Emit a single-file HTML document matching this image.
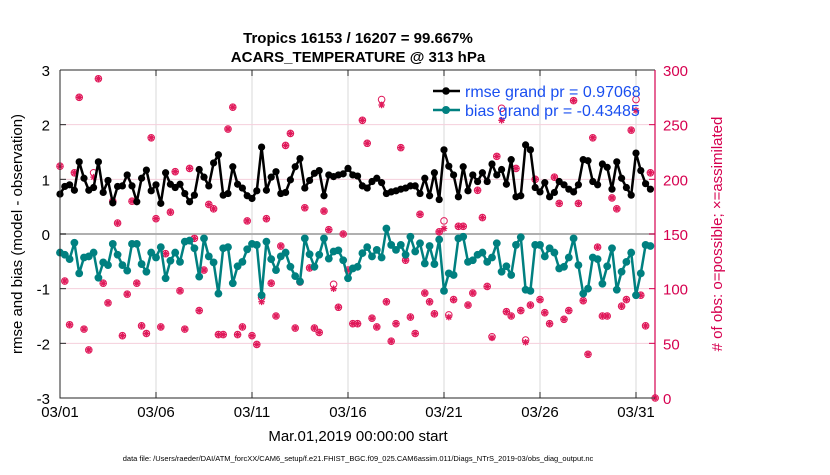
<!DOCTYPE html>
<html><head><meta charset="utf-8"><style>
body{margin:0;background:#fff;width:830px;height:470px;overflow:hidden;font-family:"Liberation Sans",sans-serif}
</style></head><body>
<svg id="chart" width="830" height="470" xmlns="http://www.w3.org/2000/svg" font-family="Liberation Sans, sans-serif">
<g id="grid"></g>
<g id="obs"></g>
<g id="lines"></g>
<g id="axes"></g>
<text x="358" y="43" text-anchor="middle" font-size="15" font-weight="bold">Tropics 16153 / 16207 = 99.667%</text>
<text x="358" y="62" text-anchor="middle" font-size="15" font-weight="bold">ACARS_TEMPERATURE @ 313 hPa</text>
<text transform="translate(22,234) rotate(-90)" text-anchor="middle" font-size="15">rmse and bias (model - observation)</text>
<text transform="translate(722,234) rotate(-90)" text-anchor="middle" font-size="15" fill="#d6004f"># of obs: o=possible; ×=assimilated</text>
<text x="358" y="441" text-anchor="middle" font-size="15">Mar.01,2019 00:00:00 start</text>
<text x="358" y="461" text-anchor="middle" font-size="7.5">data file: /Users/raeder/DAI/ATM_forcXX/CAM6_setup/f.e21.FHIST_BGC.f09_025.CAM6assim.011/Diags_NTrS_2019-03/obs_diag_output.nc</text>
<g>
<line x1="433" y1="91" x2="460" y2="91" stroke="#000" stroke-width="2.5"/><circle cx="446" cy="91" r="3.8" fill="#000"/>
<text x="465" y="97" font-size="16" fill="#1a4ff0">rmse grand pr = 0.97068</text>
<line x1="433" y1="110" x2="460" y2="110" stroke="#008080" stroke-width="2.5"/><circle cx="446" cy="110" r="4" fill="#008080"/>
<text x="465" y="116" font-size="16" fill="#1a4ff0">bias grand pr = -0.43485</text>
</g>
</svg>
<script>
const rmse=[0.73,0.87,0.90,0.80,1.32,1.02,0.80,0.85,1.32,0.76,0.98,0.57,0.87,0.88,1.08,0.88,0.59,1.02,1.17,0.79,0.90,0.56,1.12,0.91,0.85,0.91,0.74,0.59,0.71,1.18,1.04,0.88,1.30,1.45,0.71,0.74,1.23,0.91,0.84,0.70,0.65,0.79,1.59,0.80,
1.04,1.14,0.74,0.76,0.99,1.23,1.38,0.84,0.98,1.11,1.16,0.70,1.08,1.05,1.08,1.10,1.20,1.08,1.06,0.88,0.84,0.96,1.02,0.94,0.74,0.77,0.79,0.82,0.84,0.88,0.88,0.74,1.02,0.70,1.12,0.63,1.54,1.24,1.08,0.68,
1.23,0.79,1.08,0.96,1.12,0.96,1.28,1.08,1.18,0.91,1.36,0.68,0.70,1.63,1.54,0.85,0.77,0.94,0.68,0.76,0.96,0.90,0.82,0.77,0.90,1.36,1.34,0.96,0.90,1.28,1.22,0.82,1.32,1.02,0.85,0.71,1.48,1.16,0.92,0.82];
const bias=[-0.34,-0.38,-0.46,-0.16,-0.72,-0.43,-0.41,-0.34,-0.80,-0.52,-0.57,-0.18,-0.38,-0.57,-0.67,-0.18,-0.18,-0.55,-0.69,-0.34,-0.43,-0.24,-0.81,-0.49,-0.34,-0.51,-0.14,-0.12,-0.26,-0.78,-0.08,-0.41,-0.52,-1.09,-0.26,-0.24,-0.90,-0.59,-0.51,-0.28,-0.18,-0.20,-1.12,-0.14,
-0.46,-0.66,-0.41,-0.34,-0.60,-0.77,-0.87,-0.08,-0.37,-0.60,-0.38,-0.08,-0.45,-0.32,-0.30,-0.48,-0.81,-0.63,-0.60,-0.35,-0.24,-0.41,-0.29,-0.43,0.10,-0.20,-0.29,-0.20,-0.38,-0.05,-0.32,-0.17,-0.54,-0.22,-0.55,-0.10,-1.04,-0.72,-0.75,-0.08,
-0.05,-0.51,-0.48,-0.38,-0.34,-0.51,-0.43,-0.17,-0.69,-0.59,-0.75,-0.20,-0.06,-1.02,-1.04,-0.20,-0.20,-0.41,-0.26,-0.34,-0.63,-0.60,-0.43,-0.08,-0.57,-1.09,-1.00,-0.43,-0.46,-0.91,-0.59,-0.26,-1.02,-0.69,-0.51,-0.34,-1.12,-0.72,-0.20,-0.22];
const obsPossible=[212,107,67,206,275,63,44,206,292,105,87,180,160,57,95,180,105,66,59,238,164,65,132,170,207,98,63,210,146,80,117,177,173,58,58,246,266,58,65,162,57,49,92,164,
105,75,139,231,242,64,106,174,119,64,60,171,154,104,83,150,117,68,68,254,233,73,65,273,88,52,68,229,126,74,59,168,96,88,77,152,162,76,90,157,
157,85,96,190,165,102,56,221,265,79,75,210,80,53,85,200,90,78,68,202,178,72,80,272,178,89,40,238,138,75,75,183,173,84,90,245,273,94,66,206,0];
const obsUsed=[212,107,67,206,275,63,44,202,292,105,87,180,160,57,95,180,105,66,59,238,164,65,132,170,207,98,63,210,146,80,117,177,173,58,58,246,266,58,65,162,57,49,88,164,
105,75,139,231,242,64,106,174,119,64,60,171,154,100,83,150,117,68,68,254,233,73,65,268,88,52,68,229,126,74,59,168,96,88,77,152,155,74,90,157,
157,85,96,190,165,102,55,221,254,79,75,210,80,51,85,200,90,78,68,202,178,72,80,272,178,89,40,238,138,75,75,183,173,84,90,245,263,94,66,206,0];
const xTickLabels=["03/01","03/06","03/11","03/16","03/21","03/26","03/31"];
const xTickDays=[0,5,10,15,20,25,30];
const yTicksLeft=[3,2,1,0,-1,-2,-3];
const yTicksRight=[300,250,200,150,100,50,0];

const L=60,R=655,T=70,B=398;
const X=d=>L+d*19.2;
const Y=v=>T+(3-v)/6*(B-T);
const YR=v=>T+(300-v)/300*(B-T);
const NS="http://www.w3.org/2000/svg";
function mk(tag,attrs,parent){const e=document.createElementNS(NS,tag);for(const k in attrs)e.setAttribute(k,attrs[k]);parent.appendChild(e);return e;}
const grid=document.getElementById('grid'),axes=document.getElementById('axes'),obs=document.getElementById('obs'),lines=document.getElementById('lines');

xTickDays.forEach((d,i)=>{
  const g=mk('line',{x1:X(d),x2:X(d),y1:T,y2:B,stroke:'#d9d9d9','stroke-width':1},grid);
  
  
  mk('line',{x1:X(d),x2:X(d),y1:B,y2:B-6,stroke:'#262626'},axes);
  mk('line',{x1:X(d),x2:X(d),y1:T,y2:T+6,stroke:'#262626'},axes);
  const t=mk('text',{x:X(d),y:B+19,'text-anchor':'middle','font-size':15},axes);
  t.textContent=xTickLabels[i];
  
  
});
yTicksRight.forEach(v=>{
  if(v>0&&v<300){const g=mk('line',{x1:L,x2:R,y1:YR(v),y2:YR(v),stroke:'#f5cfdc','stroke-width':1},grid);
  
  }
  mk('line',{x1:R,x2:R-6,y1:YR(v),y2:YR(v),stroke:'#d6004f'},axes);
  const t=mk('text',{x:R+8,y:YR(v)+6,'font-size':15,fill:'#d6004f'},axes);
  t.textContent=v;
  
  
});
yTicksLeft.forEach(v=>{
  mk('line',{x1:L,x2:L+6,y1:Y(v),y2:Y(v),stroke:'#262626'},axes);
  const t=mk('text',{x:L-10,y:Y(v)+6,'text-anchor':'end','font-size':15},axes);
  t.textContent=v;
  
  
});
const z=mk('line',{x1:L,x2:R,y1:Y(0),y2:Y(0),stroke:'#b0b0b0','stroke-width':2},grid);


mk('path',{d:`M${L},${T}H${R}M${L},${T}V${B}H${R}`,stroke:'#262626','stroke-width':1,fill:'none'},axes);
mk('line',{x1:R,x2:R,y1:T,y2:B,stroke:'#d6004f','stroke-width':1.2},axes);

obsPossible.forEach((v,i)=>{
  const c=mk('circle',{cx:X(i*0.25),cy:YR(v),r:3.3,fill:'none',stroke:'#e0195a','stroke-width':1},obs);
  
  
});
obsUsed.forEach((v,i)=>{
  const x=X(i*0.25),y=YR(v);
  const p=mk('path',{d:`M${x-3.3},${y}H${x+3.3}M${x},${y-3.3}V${y+3.3}M${x-2.4},${y-2.4}L${x+2.4},${y+2.4}M${x-2.4},${y+2.4}L${x+2.4},${y-2.4}`,stroke:'#e0195a','stroke-width':1.3},obs);
  
  
});
function series(arr,color,name,r){
  const d=arr.map((v,i)=>(i?'L':'M')+X(i*0.25)+','+Y(v)).join('');
  const p=mk('path',{d:d,stroke:color,'stroke-width':2.5,fill:'none','stroke-linejoin':'round'},lines);
  
  
  arr.forEach((v,i)=>{
    const c=mk('circle',{cx:X(i*0.25),cy:Y(v),r:r,fill:color},lines);
    
    
  });
}
series(rmse,'#000','rmse',3.6);
series(bias,'#008080','bias',3.9);
</script>
</body></html>
